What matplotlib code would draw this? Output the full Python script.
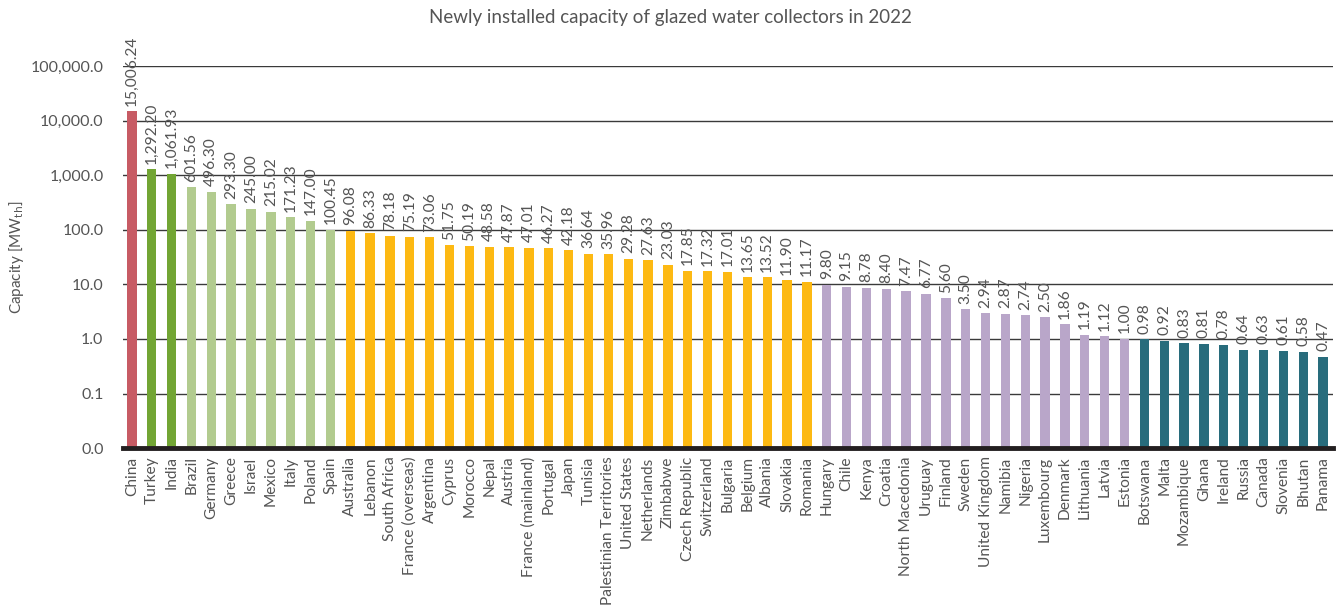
import matplotlib.pyplot as plt
from matplotlib.ticker import FuncFormatter, FixedLocator

plt.rcParams['font.family'] = ['Lato', 'DejaVu Sans']

# data
countries = ["China", "Turkey", "India", "Brazil", "Germany", "Greece", "Israel", "Mexico",
             "Italy", "Poland", "Spain", "Australia", "Lebanon", "South Africa",
             "France (overseas)", "Argentina", "Cyprus", "Morocco", "Nepal", "Austria",
             "France (mainland)", "Portugal", "Japan", "Tunisia", "Palestinian Territories",
             "United States", "Netherlands", "Zimbabwe", "Czech Republic", "Switzerland",
             "Bulgaria", "Belgium", "Albania", "Slovakia", "Romania", "Hungary", "Chile",
             "Kenya", "Croatia", "North Macedonia", "Uruguay", "Finland", "Sweden",
             "United Kingdom", "Namibia", "Nigeria", "Luxembourg", "Denmark", "Lithuania",
             "Latvia", "Estonia", "Botswana", "Malta", "Mozambique", "Ghana", "Ireland",
             "Russia", "Canada", "Slovenia", "Bhutan", "Panama"]
capacity = [15006.24, 1292.20, 1061.93, 601.56, 496.30, 293.30, 245.00, 215.02,
            171.23, 147.00, 100.45, 96.08, 86.33, 78.18,
            75.19, 73.06, 51.75, 50.19, 48.58, 47.87,
            47.01, 46.27, 42.18, 36.64, 35.96,
            29.28, 27.63, 23.03, 17.85, 17.32,
            17.01, 13.65, 13.52, 11.90, 11.17, 9.80, 9.15,
            8.78, 8.40, 7.47, 6.77, 5.60, 3.50,
            2.94, 2.87, 2.74, 2.50, 1.86, 1.19,
            1.12, 1.00, 0.98, 0.92, 0.83, 0.81, 0.78,
            0.64, 0.63, 0.61, 0.58, 0.47]
# size class of each country -> colour
group = [0, 1, 1] + [2] * 8 + [3] * 24 + [4] * 16 + [5] * 10
group_colors = ["#C75B64", "#72A534", "#B2CB8F", "#FDB913", "#B9A6C9", "#286C7C"]
yticks = [0.01, 0.1, 1, 10, 100, 1000, 10000, 100000]

fig = plt.figure(figsize=(13.41, 6.13), dpi=100)
ax = fig.add_axes([0.0917, 0.269, 0.9023, 0.623])

x = list(range(len(countries)))
colors = [group_colors[g] for g in group]
ax.bar(x, capacity, width=0.47, color=colors, zorder=3)

ax.set_yscale('log')
ax.set_ylim(0.01, 100000)
ax.set_xlim(-0.45, len(countries) - 0.5)
ax.yaxis.set_major_locator(FixedLocator(yticks))
ax.yaxis.set_minor_locator(FixedLocator([]))
ax.yaxis.set_major_formatter(FuncFormatter(lambda v, p: "{:,.1f}".format(round(v, 1))))
ax.grid(axis='y', color='#3a3a3a', linewidth=1.0, zorder=0)
ax.tick_params(axis='y', length=0, pad=14, labelsize=11.5, labelcolor='#555555')

ax.set_xticks(x)
ax.set_xticklabels(countries, rotation=90, fontsize=11.2, color='#555555')
ax.tick_params(axis='x', length=0, pad=6)

for s in ['top', 'right', 'left']:
    ax.spines[s].set_visible(False)
ax.spines['bottom'].set_linewidth(3.5)
ax.spines['bottom'].set_color('#231f20')
ax.spines['bottom'].set_zorder(4)

for xi, v in zip(x, capacity):
    ax.annotate("{:,.2f}".format(v), (xi, v), xytext=(0, 4), textcoords='offset points',
                rotation=90, ha='center', va='bottom', fontsize=11.2, color='#555555')

ax.set_ylabel("Capacity [MW$_{\\mathrm{th}}$]", fontsize=11, color='#555555')
ax.yaxis.set_label_coords(-0.080, 0.5)
fig.suptitle("Newly installed capacity of glazed water collectors in 2022", y=0.985,
             fontsize=13.5, color='#555555')

fig.savefig("out.png", dpi=100)
